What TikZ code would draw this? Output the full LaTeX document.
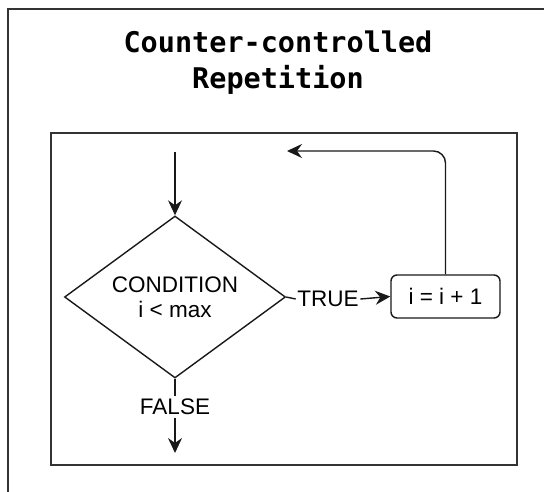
\documentclass[tikz,border=0pt]{standalone}
\usepackage{fontspec}
\setmainfont{Liberation Sans}
\newfontfamily\codefont{DejaVu Sans Mono}
\usetikzlibrary{shapes,arrows.meta,positioning,calc}

\begin{document}
\begin{tikzpicture}[x=1pt, y=-1pt, line width=1.4pt, black!90,
  font=\fontsize{22.5}{25}\selectfont,
  >={Stealth[length=15pt,width=14pt,inset=5pt]},
  frame/.style={line width=1.8pt, black!80}]
\clip (0,0) rectangle (544,492);
\draw[frame] (8,9) rectangle (560,510);
\node[text=black, align=center, font=\codefont\bfseries\fontsize{28.5}{36}\selectfont] (title) at (278,63) {Counter-controlled\\Repetition};
\draw[frame, line width=1.6pt] (51,133) rectangle (517,465);

\node[draw, diamond, shape aspect=1.36, inner sep=0pt, minimum width=221pt, minimum height=162pt, align=center, text=black] (cond) at (175,297) {CONDITION\\i < max};
\coordinate (start) at (175,152);
\draw[->] (start) -- (cond);

\node[inner sep=2pt, text=black] (false) at (175,407) {FALSE};
\coordinate (exit) at (175,453);
\draw (cond.south) -- (false.north);
\draw[->] (false.south) -- (exit);

\node[inner sep=1pt, text=black] (true) at (328,299) {TRUE};
\node[draw, rounded corners=6pt, minimum width=109pt, minimum height=43pt, text=black] (inc) at (445.5,296.5) {i = i + 1};
\draw (cond.east) -- (true.west);
\draw[->] (true.east) -- (inc.west);

% back to the top of the loop
\coordinate (back) at (287,151);
\draw[->, rounded corners=12pt] (inc.north) |- (back);
\end{tikzpicture}
\end{document}
